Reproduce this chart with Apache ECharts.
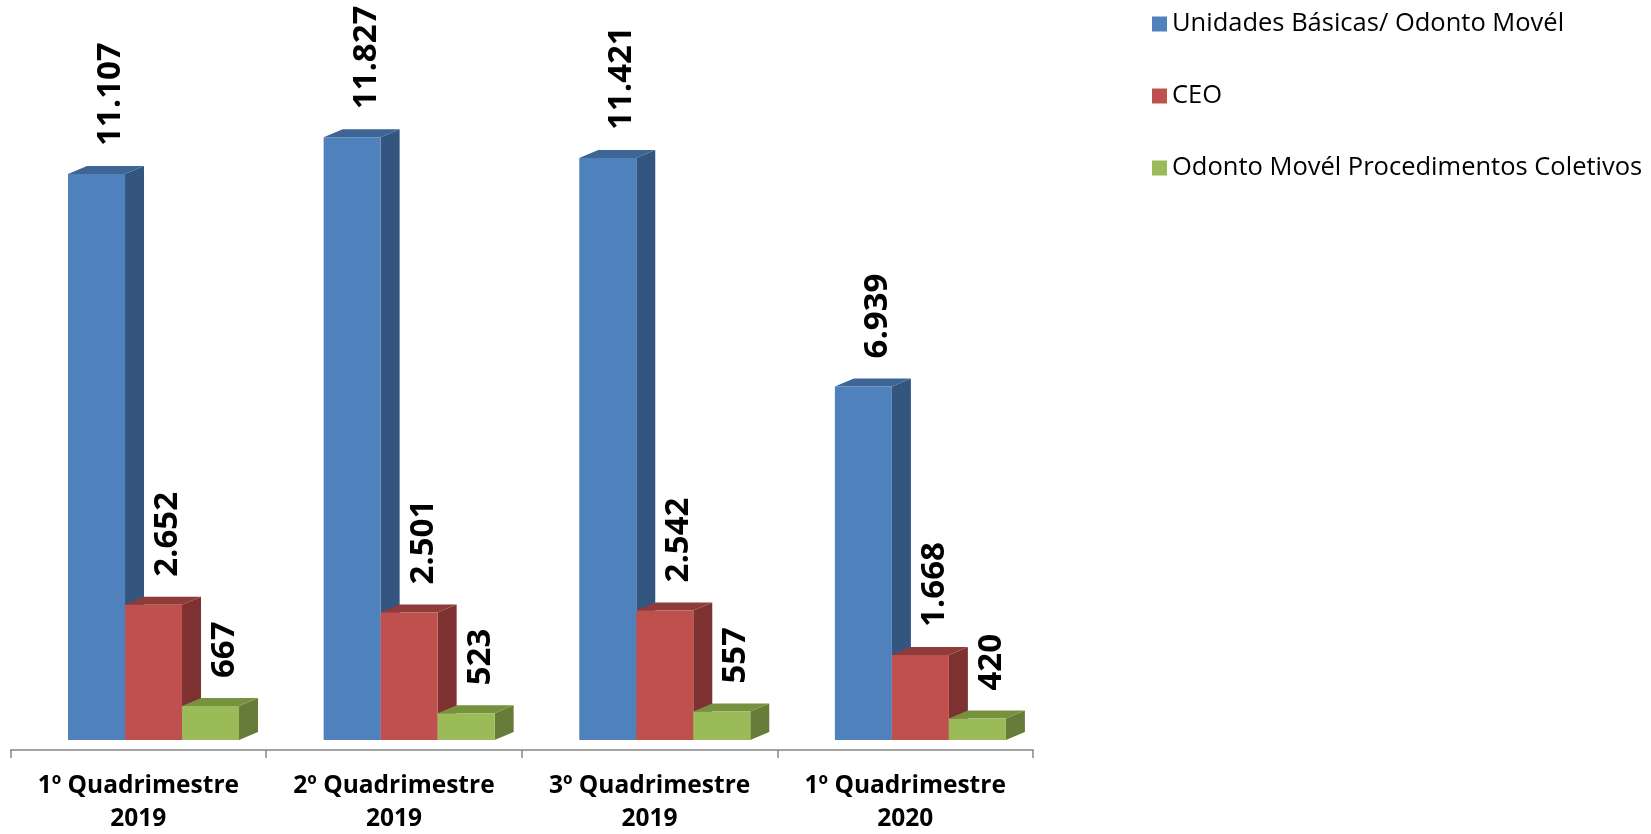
<!DOCTYPE html>
<html>
<head>
<meta charset="utf-8">
<script src="https://cdn.jsdelivr.net/npm/echarts@6/dist/echarts.min.js"></script>
<style>
  html, body { margin: 0; padding: 0; background: #fff; }
  #chart { width: 1651px; height: 834px; }
</style>
</head>
<body>
<div id="chart"></div>
<script>
// dados
var categories = ["1º Quadrimestre\n2019", "2º Quadrimestre\n2019", "3º Quadrimestre\n2019", "1º Quadrimestre\n2020"];
var seriesNames = ["Unidades Básicas/ Odonto Movél", "CEO", "Odonto Movél Procedimentos Coletivos"];
var unidades = [11107, 11827, 11421, 6939];
var ceo = [2652, 2501, 2542, 1668];
var coletivos = [667, 523, 557, 420];

// cores: frente, lado, topo
var faces = [
  ["#4F81BD", "#34557F", "#3D6697"],
  ["#C0504D", "#7D3130", "#8F3B39"],
  ["#9BBB59", "#677C38", "#77923F"]
];

var DX = 19, DY = 8;

function fmt(v) {
  return String(v).replace(/\B(?=(\d{3})+(?!\d))/g, ".");
}

function bar3d(params, api) {
  var idx = api.value(0), val = api.value(1);
  var base = api.coord([idx, 0]);
  var top = api.coord([idx, val]);
  var band = api.size([1, 0])[0];
  var w = band * 0.223;
  var x0 = base[0] - band / 2 + band * 0.225 + params.seriesIndex * w;
  var yb = base[1], yt = top[1];
  var c = faces[params.seriesIndex];
  return {
    type: "group",
    children: [
      {
        type: "polygon",
        shape: { points: [[x0 + w, yt], [x0 + w + DX, yt - DY], [x0 + w + DX, yb - DY], [x0 + w, yb]] },
        style: { fill: c[1] }
      },
      {
        type: "polygon",
        shape: { points: [[x0, yt], [x0 + DX, yt - DY], [x0 + w + DX, yt - DY], [x0 + w, yt]] },
        style: { fill: c[2] }
      },
      {
        type: "rect",
        shape: { x: x0, y: yt, width: w, height: yb - yt },
        style: { fill: c[0] }
      },
      {
        type: "text",
        x: x0 + w / 2 + 14,
        y: yt - DY - 20,
        rotation: Math.PI / 2,
        style: {
          text: fmt(val),
          fill: "#000",
          font: 'bold 33px "Open Sans"',
          align: "left",
          verticalAlign: "middle"
        }
      }
    ]
  };
}

function toData(arr) {
  return arr.map(function (v, i) { return [i, v]; });
}

var myChart = echarts.init(document.getElementById("chart"), null, { renderer: "canvas" });
var option = {
  animation: false,
  legend: {
    orient: "vertical",
    left: 1147,
    top: 6,
    icon: "rect",
    itemWidth: 15,
    itemHeight: 15,
    itemGap: 46,
    textStyle: { fontFamily: "Open Sans", fontSize: 25.5, color: "#000", lineHeight: 25 },
    data: seriesNames
  },
  grid: { left: 10.5, right: 618, top: 26.6, bottom: 94, outerBoundsMode: "none" },
  xAxis: {
    type: "category",
    data: categories,
    offset: 10,
    axisLine: { show: true, onZero: false, lineStyle: { color: "#878787", width: 1.5 } },
    axisTick: { show: true, interval: 0, length: 8, lineStyle: { color: "#878787", width: 1.5 } },
    axisLabel: {
      interval: 0,
      margin: 19.5,
      color: "#000",
      fontFamily: "Open Sans",
      fontWeight: "bold",
      fontSize: 24.5,
      lineHeight: 33
    }
  },
  yAxis: {
    type: "value",
    min: 0,
    max: 14000,
    show: false,
    splitLine: { show: false }
  },
  series: [
    { name: seriesNames[0], type: "custom", renderItem: bar3d, itemStyle: { color: faces[0][0] }, data: toData(unidades) },
    { name: seriesNames[1], type: "custom", renderItem: bar3d, itemStyle: { color: faces[1][0] }, data: toData(ceo) },
    { name: seriesNames[2], type: "custom", renderItem: bar3d, itemStyle: { color: faces[2][0] }, data: toData(coletivos) }
  ]
};
myChart.setOption(option);
</script>
</body>
</html>
